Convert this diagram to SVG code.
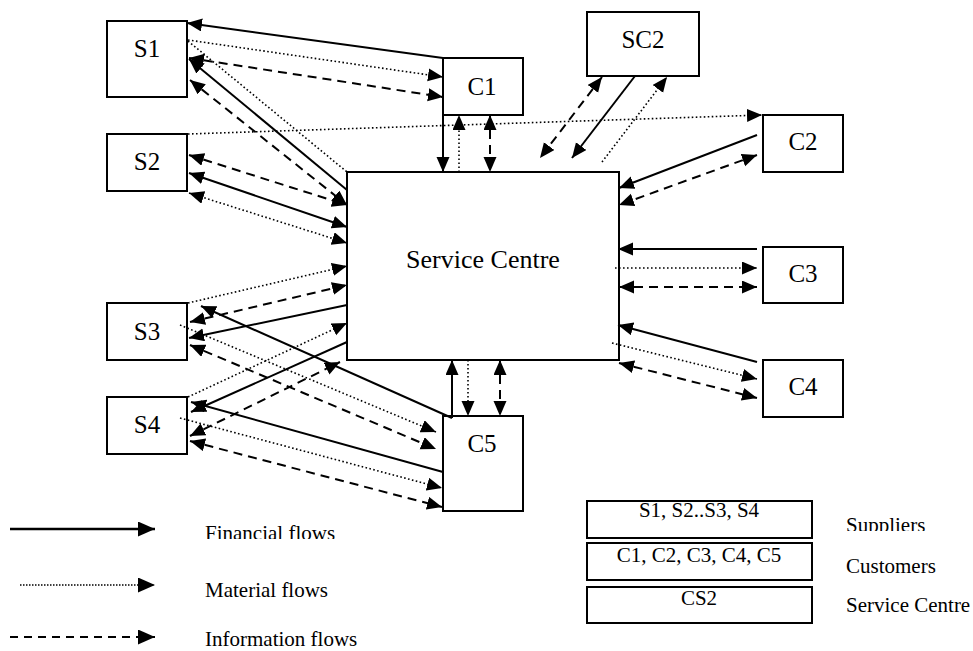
<svg xmlns="http://www.w3.org/2000/svg" width="973" height="651" viewBox="0 0 973 651">
<style>
.box{fill:#fff;stroke:#000;stroke-width:2}
.lbl{font-family:"Liberation Serif","Times New Roman",serif;font-size:25px;fill:#000;text-anchor:middle}
.ctr{font-size:26px}
.leg{font-family:"Liberation Serif","Times New Roman",serif;font-size:21px;fill:#000}
.legc{text-anchor:middle}
.f{stroke:#000;stroke-width:2;fill:none}
.m{stroke:#000;stroke-width:1.6;stroke-dasharray:1.6 2.4;fill:none}
.i{stroke:#000;stroke-width:2;stroke-dasharray:9 6;fill:none}
.e{marker-end:url(#ah)}
.b{marker-start:url(#ahs);marker-end:url(#ah)}
</style>
<defs>
<marker id="ah" markerUnits="userSpaceOnUse" markerWidth="16" markerHeight="14" refX="15" refY="6.5" orient="auto"><path d="M0,0 L15,6.5 L0,13 z" fill="#000"/></marker>
<marker id="ahs" markerUnits="userSpaceOnUse" markerWidth="16" markerHeight="14" refX="15" refY="6.5" orient="auto-start-reverse"><path d="M0,0 L15,6.5 L0,13 z" fill="#000"/></marker>
<marker id="lah" markerUnits="userSpaceOnUse" markerWidth="18" markerHeight="16" refX="17" refY="7.5" orient="auto"><path d="M0,0 L17,7.5 L0,15 z" fill="#000"/></marker>
<clipPath id="clipFin"><rect x="190" y="500" width="200" height="39"/></clipPath>
<clipPath id="clipSup"><rect x="830" y="500" width="143" height="31"/></clipPath>
</defs>

<g id="node-SC"><rect class="box" x="347" y="172" width="272" height="188"/><text class="lbl ctr" x="483" y="268">Service Centre</text></g>
<g id="node-S1"><rect class="box" x="107" y="21" width="80" height="76"/><text class="lbl" x="147" y="57">S1</text></g>
<g id="node-S2"><rect class="box" x="107" y="134" width="80" height="57"/><text class="lbl" x="147" y="170">S2</text></g>
<g id="node-S3"><rect class="box" x="107" y="303" width="80" height="57"/><text class="lbl" x="147" y="340">S3</text></g>
<g id="node-S4"><rect class="box" x="107" y="397" width="80" height="57"/><text class="lbl" x="147" y="433">S4</text></g>
<g id="node-C1"><rect class="box" x="443" y="58" width="80" height="57"/><text class="lbl" x="482" y="95">C1</text></g>
<g id="node-SC2"><rect class="box" x="587" y="12" width="112" height="64"/><text class="lbl" x="643" y="48">SC2</text></g>
<g id="node-C2"><rect class="box" x="763" y="115" width="80" height="57"/><text class="lbl" x="803" y="150">C2</text></g>
<g id="node-C3"><rect class="box" x="763" y="247" width="80" height="56"/><text class="lbl" x="803" y="282">C3</text></g>
<g id="node-C4"><rect class="box" x="763" y="360" width="80" height="57"/><text class="lbl" x="803" y="395">C4</text></g>
<g id="node-C5"><rect class="box" x="443" y="416" width="80" height="95"/><text class="lbl" x="482" y="452">C5</text></g>

<g id="connectors">
<!-- financial -->
<line class="f e" x1="443" y1="58" x2="187" y2="23"/>
<line class="f e" x1="347" y1="190" x2="189" y2="59"/>
<line class="f b" x1="189" y1="173" x2="347" y2="227"/>
<line class="f e" x1="443" y1="115" x2="443" y2="172"/>
<line class="f e" x1="635" y1="76" x2="572" y2="158"/>
<line class="f e" x1="757" y1="135" x2="619" y2="188"/>
<line class="f e" x1="757" y1="249" x2="618" y2="249"/>
<line class="f e" x1="757" y1="362" x2="618" y2="325"/>
<line class="f e" x1="452" y1="418" x2="452" y2="360"/>
<line class="f e" x1="452" y1="418" x2="201" y2="306"/>
<line class="f e" x1="347" y1="305" x2="189" y2="338"/>
<line class="f e" x1="347" y1="342" x2="191" y2="412"/>
<line class="f e" x1="443" y1="472" x2="191" y2="402"/>
<!-- material -->
<line class="m e" x1="188" y1="40" x2="443" y2="77"/>
<line class="m" x1="188" y1="41" x2="347" y2="172"/>
<line class="m e" x1="188" y1="134" x2="762" y2="115"/>
<line class="m b" x1="189" y1="193" x2="347" y2="243"/>
<line class="m e" x1="459" y1="172" x2="459" y2="115"/>
<line class="m e" x1="602" y1="162" x2="667" y2="77"/>
<line class="m e" x1="615" y1="268" x2="757" y2="268"/>
<line class="m e" x1="612" y1="343" x2="757" y2="379"/>
<line class="m e" x1="468" y1="360" x2="468" y2="416"/>
<line class="m e" x1="188" y1="303" x2="347" y2="266"/>
<line class="m e" x1="180" y1="325" x2="436" y2="432"/>
<line class="m e" x1="188" y1="397" x2="347" y2="323"/>
<line class="m e" x1="180" y1="418" x2="442" y2="488"/>
<!-- information -->
<line class="i b" x1="189" y1="58" x2="443" y2="97"/>
<line class="i b" x1="190" y1="80" x2="347" y2="205"/>
<line class="i b" x1="189" y1="155" x2="347" y2="205"/>
<line class="i b" x1="490" y1="115" x2="490" y2="172"/>
<line class="i b" x1="602" y1="77" x2="540" y2="158"/>
<line class="i b" x1="757" y1="155" x2="619" y2="205"/>
<line class="i b" x1="619" y1="287" x2="757" y2="287"/>
<line class="i b" x1="619" y1="363" x2="757" y2="398"/>
<line class="i b" x1="500" y1="360" x2="500" y2="416"/>
<line class="i b" x1="190" y1="322" x2="347" y2="285"/>
<line class="i b" x1="190" y1="345" x2="436" y2="449"/>
<line class="i b" x1="190" y1="436" x2="340" y2="362"/>
<line class="i b" x1="190" y1="441" x2="442" y2="507"/>
</g>

<g id="legend-lines">
<line x1="10" y1="529" x2="155" y2="529" stroke="#000" stroke-width="2.5" marker-end="url(#lah)"/>
<line x1="20" y1="585" x2="155" y2="585" stroke="#000" stroke-width="1.5" stroke-dasharray="1.5 1.5" marker-end="url(#lah)"/>
<line x1="10" y1="637" x2="155" y2="637" stroke="#000" stroke-width="2" stroke-dasharray="8 6" marker-end="url(#lah)"/>
<text class="leg" x="205" y="540" clip-path="url(#clipFin)">Financial flows</text>
<text class="leg" x="205" y="597">Material flows</text>
<text class="leg" x="205" y="646">Information flows</text>
</g>

<g id="legend-boxes">
<rect class="box" x="587" y="501" width="225" height="37"/>
<text class="leg legc" x="699" y="517">S1, S2..S3, S4</text>
<rect class="box" x="587" y="543" width="225" height="37"/>
<text class="leg legc" x="699" y="562">C1, C2, C3, C4, C5</text>
<rect class="box" x="587" y="587" width="225" height="36"/>
<text class="leg legc" x="699" y="605">CS2</text>
<text class="leg" x="846" y="532" clip-path="url(#clipSup)">Suppliers</text>
<text class="leg" x="846" y="573">Customers</text>
<text class="leg" x="846" y="612">Service Centre</text>
</g>
</svg>
